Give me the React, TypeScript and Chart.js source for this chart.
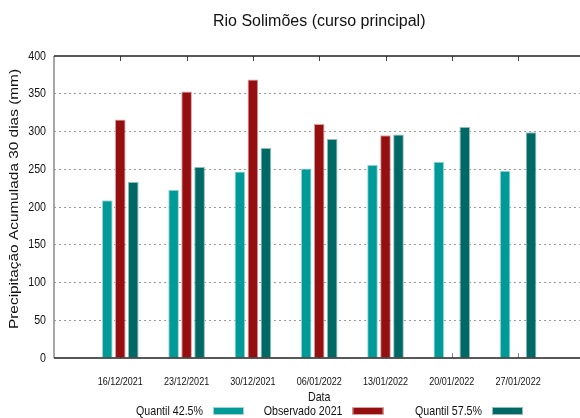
import React, { useEffect, useRef } from 'react';
import { Chart, registerables } from 'chart.js';

Chart.register(...registerables);

const chartTitle = 'Rio Solimões (curso principal)';
const yAxisTitle = 'Precipitação Acumulada 30 dias (mm)';
const xAxisTitle = 'Data';
const dates = ['16/12/2021', '23/12/2021', '30/12/2021', '06/01/2022', '13/01/2022', '20/01/2022', '27/01/2022'];
const quantil425 = [209, 223, 247, 251, 256, 260, 248];
const observado2021: (number | null)[] = [316, 353, 369, 310, 295, null, null];
const quantil575 = [233, 253, 278, 290, 296, 306, 299];
const seriesNames = ['Quantil 42.5%', 'Observado 2021', 'Quantil 57.5%'];
const seriesColors = ['#009a99', '#960f10', '#006966'];
const seriesBorders = ['#9fd6d5', '#d9a0a0', '#8fbfbd'];
const yMin = 0;
const yMax = 400;
const yStep = 50;

const REGULAR = '"Liberation Sans", Arial, sans-serif';
const NARROW_SCALE = 0.82;
const TEXT_COLOR = '#111';

const pad = (arr: (number | null)[]) => [null, ...arr, null];

function drawText(
  ctx: CanvasRenderingContext2D,
  text: string,
  x: number,
  y: number,
  size: number,
  align: CanvasTextAlign,
  sx: number,
  rotation = 0,
  sy = 1
) {
  ctx.save();
  ctx.translate(x, y);
  if (rotation) ctx.rotate(rotation);
  ctx.scale(sx, sy);
  ctx.font = `${size}px ${REGULAR}`;
  ctx.fillStyle = TEXT_COLOR;
  ctx.textAlign = align;
  ctx.textBaseline = 'middle';
  ctx.fillText(text, 0, 0);
  ctx.restore();
}

const framePlugin = {
  id: 'frame',
  beforeDatasetsDraw(chart: any) {
    const { ctx, chartArea } = chart;
    const xs = chart.scales.x;
    ctx.save();
    ctx.lineWidth = 1;
    for (let i = 1; i <= dates.length; i++) {
      const x = Math.round(xs.getPixelForValue(i)) + 0.5;
      ctx.strokeStyle = '#444';
      ctx.beginPath();
      ctx.moveTo(x, chartArea.top);
      ctx.lineTo(x, chartArea.top + 5);
      ctx.stroke();
      ctx.strokeStyle = '#888';
      ctx.beginPath();
      ctx.moveTo(x, chartArea.bottom - 5);
      ctx.lineTo(x, chartArea.bottom);
      ctx.stroke();
    }
    ctx.restore();
  },
  afterDatasetsDraw(chart: any) {
    const { ctx, chartArea } = chart;
    const xs = chart.scales.x;
    const ys = chart.scales.y;
    ctx.save();
    ctx.strokeStyle = '#8a8a8a';
    ctx.lineWidth = 1.5;
    ctx.beginPath();
    ctx.moveTo(chartArea.left, chartArea.top);
    ctx.lineTo(chartArea.left, chartArea.bottom);
    ctx.stroke();
    ctx.strokeStyle = '#222';
    ctx.lineWidth = 1.5;
    ctx.beginPath();
    ctx.moveTo(chartArea.left, chartArea.top);
    ctx.lineTo(chartArea.right, chartArea.top);
    ctx.moveTo(chartArea.left, chartArea.bottom);
    ctx.lineTo(chartArea.right, chartArea.bottom);
    ctx.stroke();
    ctx.restore();

    const cx = (chartArea.left + chartArea.right) / 2;
    const cy = (chartArea.top + chartArea.bottom) / 2;

    // title
    drawText(ctx, chartTitle, cx, 22, 16, 'center', 1);

    // x tick labels
    dates.forEach((d, i) => {
      drawText(ctx, d, xs.getPixelForValue(i + 1), chartArea.bottom + 24, 11, 'center', NARROW_SCALE);
    });
    // y tick labels
    for (let v = yMin; v <= yMax; v += yStep) {
      drawText(ctx, String(v), chartArea.left - 8, ys.getPixelForValue(v), 13, 'right', NARROW_SCALE);
    }
    // axis titles
    drawText(ctx, xAxisTitle, cx, chartArea.bottom + 39, 13, 'center', NARROW_SCALE);
    drawText(ctx, yAxisTitle, 15, cy - 8, 15.4, 'center', 1, -Math.PI / 2, NARROW_SCALE);

    // legend: text then sample box (gnuplot style)
    const legendY = 411;
    const firstTextRight = 203;
    const colWidth = 139.5;
    seriesNames.forEach((name, i) => {
      const tx = firstTextRight + i * colWidth;
      drawText(ctx, name, tx, legendY, 13, 'right', NARROW_SCALE);
      ctx.save();
      ctx.fillStyle = seriesColors[i];
      ctx.fillRect(tx + 10, legendY - 3.5, 31, 7);
      ctx.strokeStyle = seriesBorders[i];
      ctx.lineWidth = 1;
      ctx.strokeRect(tx + 10.5, legendY - 3.5, 30, 7);
      ctx.restore();
    });
  },
};

export default function App() {
  const canvasRef = useRef<HTMLCanvasElement | null>(null);

  useEffect(() => {
    if (!canvasRef.current) return;
    const labels = ['', ...dates, ''];
    const chart = new Chart(canvasRef.current, {
      type: 'bar',
      data: {
        labels,
        datasets: [
          { label: seriesNames[0], data: pad(quantil425), backgroundColor: seriesColors[0], borderColor: seriesBorders[0], borderWidth: 1 },
          { label: seriesNames[1], data: pad(observado2021), backgroundColor: seriesColors[1], borderColor: seriesBorders[1], borderWidth: 1 },
          { label: seriesNames[2], data: pad(quantil575), backgroundColor: seriesColors[2], borderColor: seriesBorders[2], borderWidth: 1 },
        ],
      },
      options: {
        animation: false,
        responsive: false,
        maintainAspectRatio: false,
        layout: { padding: { left: 0, top: 56, right: 15.6, bottom: 14 } },
        datasets: { bar: { categoryPercentage: 0.588, barPercentage: 0.82 } },
        plugins: {
          legend: { display: false },
          title: { display: false },
          tooltip: { enabled: false },
        },
        scales: {
          x: {
            type: 'category',
            offset: false,
            grid: { display: false, drawTicks: false },
            border: { display: false },
            ticks: { display: false, autoSkip: false, maxRotation: 0, minRotation: 0 },
            title: { display: false },
            afterFit: (scale: any) => {
              scale.height = 46;
            },
          },
          y: {
            min: yMin,
            max: yMax,
            ticks: { display: false, stepSize: yStep },
            grid: {
              drawTicks: false,
              color: (ctx: any) =>
                ctx.tick && (ctx.tick.value === yMin || ctx.tick.value === yMax) ? 'rgba(0,0,0,0)' : '#9a9a9a',
              lineWidth: 1,
            },
            border: { display: false, dash: [2, 3] },
            title: { display: false },
            afterFit: (scale: any) => {
              scale.width = 54;
            },
          },
        },
      } as any,
      plugins: [framePlugin],
    });
    return () => chart.destroy();
  }, []);

  return (
    <div style={{ position: 'fixed', left: 0, top: 0, width: 580, height: 418, overflow: 'hidden', background: '#fff' }}>
      <canvas ref={canvasRef} width={600} height={418} style={{ display: 'block', width: 600, height: 418 }} />
    </div>
  );
}
